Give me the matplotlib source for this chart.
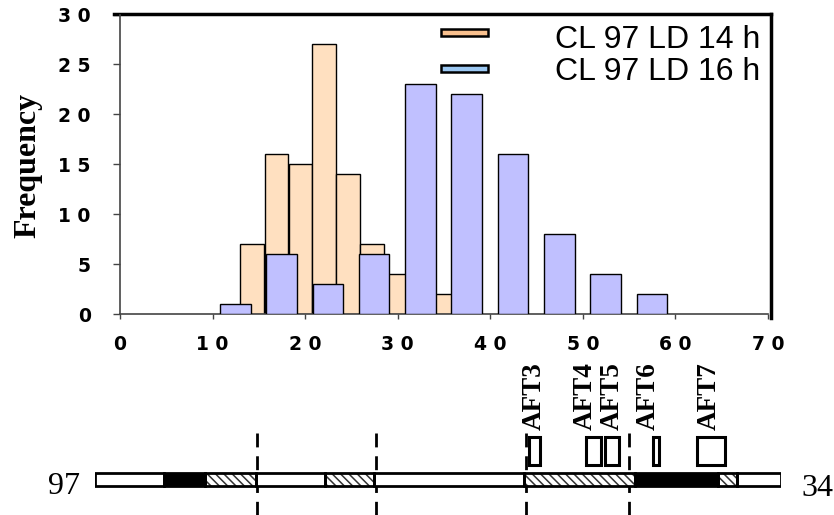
import matplotlib.pyplot as plt
from matplotlib.patches import Rectangle
from matplotlib.lines import Line2D

plt.rcParams['hatch.linewidth'] = 1.1

# histogram data
ld14_x = [14.3, 16.9, 19.5, 22.0, 24.6, 27.2, 29.8, 34.9]
ld14_n = [7, 16, 15, 27, 14, 7, 4, 2]
ld16_x = [12.45, 17.45, 22.45, 27.45, 32.45, 37.45, 42.45, 47.45, 52.45, 57.45]
ld16_n = [1, 6, 3, 6, 23, 22, 16, 8, 4, 2]
xticks = [0, 10, 20, 30, 40, 50, 60, 70]
xtick_labels = ['0', '1 0', '2 0', '3 0', '4 0', '5 0', '6 0', '7 0']
yticks = [0, 5, 10, 15, 20, 25, 30]
ytick_labels = ['0', '5', '1 0', '1 5', '2 0', '2 5', '3 0']
series_names = ['CL 97 LD 14 h', 'CL 97 LD 16 h']

# linkage map (positions along the bar, 0-100)
seg_start = [0, 10.1, 16.1, 23.5, 33.5, 40.7, 62.6, 78.7, 90.8, 93.6]
seg_end = [10.1, 16.1, 23.5, 33.5, 40.7, 62.6, 78.7, 90.8, 93.6, 100]
seg_kind = ['white', 'black', 'hatch', 'white', 'hatch', 'white', 'hatch', 'black', 'hatch', 'white']
dash_pos = [23.6, 41.0, 62.8, 77.9]
aft_names = ['AFT3', 'AFT4', 'AFT5', 'AFT6', 'AFT7']
aft_lo = [63.3, 71.6, 74.4, 81.3, 87.8]
aft_hi = [64.8, 73.8, 76.4, 82.2, 91.9]
aft_label_x = [64.0, 71.5, 75.4, 80.6, 89.5]

fig = plt.figure(figsize=(8.34, 5.15), dpi=100)
W, H = 834, 515

ax = fig.add_axes([120 / W, 1 - 314 / H, 648 / W, 299.5 / H])
ax.bar(ld14_x, ld14_n, width=2.58, color='#FFE0C0', edgecolor='black', linewidth=1, zorder=2)
ax.bar(ld16_x, ld16_n, width=3.3, color='#C0C0FF', edgecolor='black', linewidth=1, zorder=3)
ax.set_xlim(0, 70)
ax.set_ylim(0, 30)
ax.set_xticks(xticks)
ax.set_xticklabels(xtick_labels)
ax.set_yticks(yticks)
ax.set_yticklabels(ytick_labels)
for lab in ax.get_xticklabels() + ax.get_yticklabels():
    lab.set_fontfamily('DejaVu Sans')
    lab.set_fontweight('bold')
    lab.set_fontsize(13.5)
ax.tick_params(axis='x', direction='out', length=3.6, width=1, color='#444444', pad=11.5)
ax.tick_params(axis='y', direction='out', length=5, width=1, color='#444444', pad=16)
for s in ['left', 'bottom']:
    ax.spines[s].set_color('#444444')
    ax.spines[s].set_linewidth(1.2)
ax.spines['top'].set_visible(False)
ax.spines['right'].set_visible(False)
# plot area border (top and right)
ax.add_line(Line2D([-0.009, 1.004], [1.0, 1.0], transform=ax.transAxes, color='black', lw=2.5, clip_on=False))
ax.add_line(Line2D([1.004, 1.004], [1.0, -0.013], transform=ax.transAxes, color='black', lw=2.5, clip_on=False))

# overlay in pixel coordinates for legend and labels
ov = fig.add_axes([0, 0, 1, 1], zorder=5)
ov.set_xlim(0, W)
ov.set_ylim(H, 0)
ov.axis('off')
ov.text(28, 165, 'Frequency', rotation=90, ha='center', va='center',
        fontfamily='Liberation Serif', fontweight='bold', fontsize=23)
handle_cols = ['#F9C08E', '#9CC8F2']
for i, (name, col) in enumerate(zip(series_names, handle_cols)):
    yc = 32.5 + i * 36
    ov.add_patch(Rectangle((441, yc - 3.2), 47, 6.4, facecolor=col, edgecolor='black', lw=1.8))
    ov.text(555, yc + 7 - i * 4, name, fontfamily='Liberation Sans', fontsize=23, va='center', ha='left')

# linkage map
mp = fig.add_axes([95 / W, 0, 686 / W, 160 / H], zorder=4)
mp.set_xlim(0, 100)
mp.set_ylim(515, 355)
mp.axis('off')
bar_top, bar_bot = 472.5, 486
for x in dash_pos:
    mp.plot([x, x], [433, 515], color='black', lw=2, linestyle=(0, (5, 3.2)), zorder=1)
for a, b, k in zip(seg_start, seg_end, seg_kind):
    if k == 'hatch':
        mp.add_patch(Rectangle((a, bar_top), b - a, bar_bot - bar_top, facecolor='white',
                               edgecolor='#333333', hatch='\\\\\\\\', lw=0, zorder=2))
    else:
        mp.add_patch(Rectangle((a, bar_top), b - a, bar_bot - bar_top, facecolor=k, lw=0, zorder=2))
    mp.add_patch(Rectangle((a, bar_top), b - a, bar_bot - bar_top, fill=False, edgecolor='black', lw=2, zorder=3))
for name, lo, hi, lx in zip(aft_names, aft_lo, aft_hi, aft_label_x):
    mp.add_patch(Rectangle((lo, 437), hi - lo, 28, facecolor='white', edgecolor='black', lw=2.2, zorder=3))
    mp.text(lx, 430, name, rotation=90, ha='center', va='bottom', fontfamily='Liberation Serif',
            fontweight='bold', fontsize=19.5)

ov.text(64, 487, '97', fontfamily='Liberation Serif', fontsize=23, ha='center', va='center')
ov.text(817, 489, '34', fontfamily='Liberation Serif', fontsize=23, ha='center', va='center')

fig.savefig('out.png', dpi=100)
